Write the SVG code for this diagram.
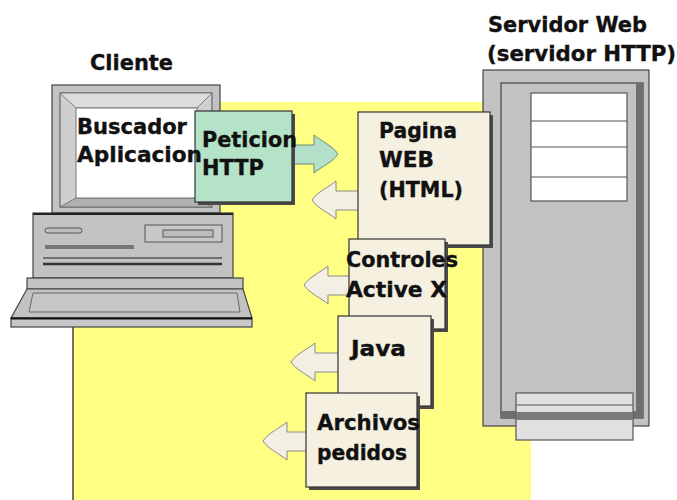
<svg xmlns="http://www.w3.org/2000/svg" xmlns:xlink="http://www.w3.org/1999/xlink" width="677" height="500" viewBox="0 0 677 500">
  <style>
    .lbl { font-family: "DejaVu Sans", "Liberation Sans", sans-serif; font-weight: bold; font-size: 21px; fill: #111; stroke: #111; stroke-width: 0.35; }
    .metal { fill: #c2c2c2; stroke: #444; stroke-width: 1.2; }
    .dark { fill: #6e6e6e; }
    .box { fill: #f5f0e0; stroke: #333; stroke-width: 1.2; }
    .shadow { fill: #4a4a4a; }
    .back { fill: #f3efe3; stroke: #8a8a8a; stroke-width: 1; }
    .fwd { fill: #b4dfc8; stroke: #6a8a78; stroke-width: 1; }
  </style>
  <defs>
    <!-- block arrow pointing left, tip at the origin -->
    <path id="larrow" d="M0,0 C5,-8 17,-13 24,-19 L24,-9 L60,-9 L60,10 L24,10 L24,19 C17,13 5,8 0,0 Z"/>
  </defs>

  <rect width="677" height="500" fill="#ffffff"/>

  <!-- yellow network area -->
  <rect x="73" y="102" width="458" height="400" fill="#ffff84"/>
  <line x1="73" y1="320" x2="73" y2="500" stroke="#444" stroke-width="1.5"/>

  <!-- titles -->
  <g id="titles">
    <text class="lbl" x="90" y="70" textLength="83" lengthAdjust="spacingAndGlyphs">Cliente</text>
    <text class="lbl" x="488" y="32" textLength="159" lengthAdjust="spacingAndGlyphs">Servidor Web</text>
    <text class="lbl" x="487" y="61" textLength="189" lengthAdjust="spacingAndGlyphs">(servidor HTTP)</text>
  </g>

  <!-- web server tower -->
  <g id="servidor">
    <rect class="metal" x="483" y="70" width="166" height="356"/>
    <rect x="501" y="83" width="142" height="335" fill="#c2c2c2" stroke="#444" stroke-width="1.2"/>
    <rect class="dark" x="636" y="84" width="7" height="334"/>
    <rect class="dark" x="501" y="411" width="142" height="7"/>
    <rect x="531" y="93" width="96" height="108" fill="#ffffff" stroke="#555" stroke-width="1.2"/>
    <line x1="531" y1="121" x2="627" y2="121" stroke="#555" stroke-width="1.2"/>
    <line x1="531" y1="147" x2="627" y2="147" stroke="#555" stroke-width="1.2"/>
    <line x1="531" y1="177" x2="627" y2="177" stroke="#555" stroke-width="1.2"/>
    <rect x="516" y="393" width="117" height="47" fill="#e0e0e0" stroke="#555" stroke-width="1.2"/>
    <line x1="516" y1="405" x2="633" y2="405" stroke="#555" stroke-width="1.2"/>
    <rect x="516" y="412" width="117" height="8" fill="#7a7a7a"/>
  </g>

  <!-- client computer -->
  <g id="cliente">
    <!-- monitor -->
    <rect class="metal" x="52" y="85" width="168" height="128"/>
    <rect x="60" y="93" width="152" height="114" fill="#cfcfcf" stroke="#555" stroke-width="1"/>
    <polygon points="60,93 212,93 197,108 76,108" fill="#dcdcdc" stroke="#666" stroke-width="0.8"/>
    <polygon points="60,207 212,207 197,198 76,198" fill="#b0b0b0" stroke="#666" stroke-width="0.8"/>
    <rect x="76" y="108" width="121" height="90" fill="#ffffff" stroke="#777" stroke-width="1"/>
    <!-- system unit -->
    <rect class="metal" x="33" y="213" width="200" height="65"/>
    <line x1="33" y1="214" x2="233" y2="214" stroke="#222" stroke-width="2"/>
    <rect x="45" y="228" width="37" height="5" rx="2.5" fill="#bdbdbd" stroke="#555" stroke-width="1"/>
    <rect x="145" y="225" width="77" height="17" fill="#c8c8c8" stroke="#555" stroke-width="1"/>
    <rect x="163" y="230" width="50" height="7" fill="#bdbdbd" stroke="#555" stroke-width="1"/>
    <rect x="45" y="245" width="89" height="4" fill="#777"/>
    <line x1="43" y1="258" x2="222" y2="258" stroke="#555" stroke-width="1.5"/>
    <line x1="43" y1="264" x2="222" y2="264" stroke="#333" stroke-width="2.5"/>
    <!-- keyboard -->
    <rect class="metal" x="27" y="278" width="216" height="11"/>
    <polygon points="27,289 243,289 252,318 11,318" fill="#c2c2c2" stroke="#444" stroke-width="1.2"/>
    <polygon points="33,293 237,293 240,312 29,312" fill="#c6c6c6" stroke="#666" stroke-width="1"/>
    <rect x="11" y="318" width="241" height="9" fill="#c8c8c8" stroke="#444" stroke-width="1.2"/>
    <line x1="11" y1="318.5" x2="252" y2="318.5" stroke="#111" stroke-width="2"/>
  </g>

  <!-- request / response arrows -->
  <g id="conectores">
    <use xlink:href="#larrow" class="fwd" transform="translate(338,154) scale(-1,1)"/>
    <use xlink:href="#larrow" class="back" transform="translate(312,200)"/>
    <use xlink:href="#larrow" class="back" transform="translate(304,285)"/>
    <use xlink:href="#larrow" class="back" transform="translate(291,362)"/>
    <use xlink:href="#larrow" class="back" transform="translate(263,441)"/>
  </g>

  <!-- HTTP request -->
  <g id="peticion">
    <rect class="shadow" x="198" y="114" width="97" height="91"/>
    <rect x="195" y="111" width="97" height="91" fill="#b5e3c8" stroke="#333" stroke-width="1.2"/>
  </g>

  <!-- client text over screen and request box -->
  <g id="buscador">
    <text class="lbl" x="77" y="134" textLength="110" lengthAdjust="spacingAndGlyphs">Buscador</text>
    <text class="lbl" x="77" y="162" textLength="125" lengthAdjust="spacingAndGlyphs">Aplicacion</text>
  </g>
  <g id="peticion-texto">
    <text class="lbl" x="202" y="147" textLength="95" lengthAdjust="spacingAndGlyphs">Peticion</text>
    <text class="lbl" x="202" y="175" textLength="62" lengthAdjust="spacingAndGlyphs">HTTP</text>
  </g>

  <!-- returned resources -->
  <g id="pagina">
    <rect class="shadow" x="361" y="115" width="132" height="133"/>
    <rect class="box" x="358" y="112" width="132" height="133"/>
    <text class="lbl" x="379" y="138" textLength="78" lengthAdjust="spacingAndGlyphs">Pagina</text>
    <text class="lbl" x="379" y="167" textLength="55" lengthAdjust="spacingAndGlyphs">WEB</text>
    <text class="lbl" x="379" y="197" textLength="84" lengthAdjust="spacingAndGlyphs">(HTML)</text>
  </g>
  <g id="controles">
    <rect class="shadow" x="352" y="242" width="96" height="90"/>
    <rect class="box" x="349" y="239" width="96" height="90"/>
    <text class="lbl" x="346" y="267" textLength="112" lengthAdjust="spacingAndGlyphs">Controles</text>
    <text class="lbl" x="346" y="297" textLength="101" lengthAdjust="spacingAndGlyphs">Active X</text>
  </g>
  <g id="java">
    <rect class="shadow" x="341" y="319" width="93" height="90"/>
    <rect class="box" x="338" y="316" width="93" height="90"/>
    <text class="lbl" x="351" y="356" textLength="55" lengthAdjust="spacingAndGlyphs">Java</text>
  </g>
  <g id="archivos">
    <rect class="shadow" x="309" y="396" width="111" height="94"/>
    <rect class="box" x="306" y="393" width="111" height="94"/>
    <text class="lbl" x="317" y="430" textLength="103" lengthAdjust="spacingAndGlyphs">Archivos</text>
    <text class="lbl" x="317" y="460" textLength="90" lengthAdjust="spacingAndGlyphs">pedidos</text>
  </g>
</svg>
